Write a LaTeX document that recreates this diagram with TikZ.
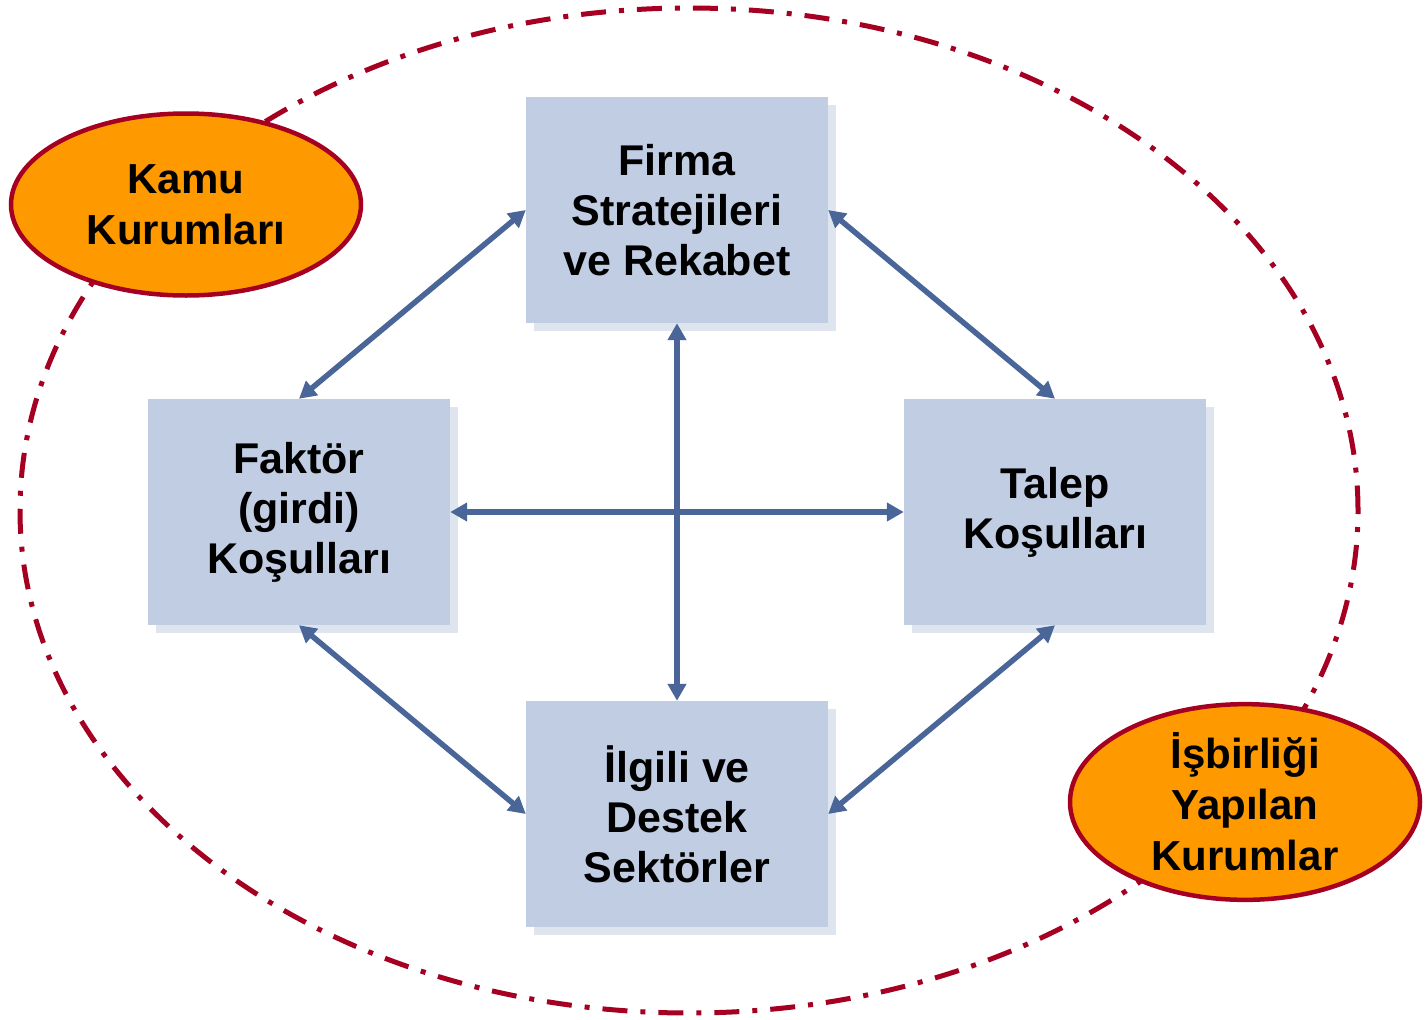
\documentclass[tikz,border=0pt]{standalone}
\usepackage{fontspec}
\setmainfont{Liberation Sans}
\usetikzlibrary{shapes.geometric,arrows.meta,shadows}
\definecolor{boxfill}{HTML}{C0CDE3}
\definecolor{shadowc}{HTML}{DFE5EF}
\definecolor{arrowc}{HTML}{4A6699}
\definecolor{darkred}{HTML}{A50021}
\definecolor{orangec}{HTML}{FF9900}
\tikzset{
  factor/.style={rectangle, fill=boxfill, minimum width=302pt, minimum height=226pt,
    inner sep=0pt, align=center, font=\fontsize{43}{50}\selectfont\bfseries,
    general shadow={fill=shadowc, shadow xshift=8pt, shadow yshift=-8pt}},
  inst/.style={ellipse, fill=orangec, draw=darkred, line width=4.5pt,
    minimum width=350pt, minimum height=182pt, inner sep=0pt, align=center,
    font=\fontsize{42}{51}\selectfont\bfseries},
  outer/.style={ellipse, draw=darkred, line width=5pt, minimum width=1338pt,
    minimum height=1005pt, inner sep=0pt,
    dash pattern=on 25pt off 13pt on 5pt off 13pt},
  link/.style={draw=arrowc, line width=5.5pt,
    {Triangle[length=17pt,width=18pt]}-{Triangle[length=17pt,width=18pt]}},
}
\begin{document}
\begin{tikzpicture}[x=1pt,y=-1pt]
\useasboundingbox (0,0) rectangle (1425,1020);
\node[outer] (ring) at (689,510.5) {};
\node[factor] (firm) at (677,210) {Firma\\Stratejileri\\ve Rekabet};
\node[factor] (fac) at (299,512) {Faktör\\(girdi)\\Koşulları};
\node[factor] (dem) at (1055,512) {Talep\\Koşulları};
\node[factor] (rel) at (677,814) {İlgili ve\\Destek\\Sektörler};
\draw[link] (firm.west) -- (fac.north);
\draw[link] (firm.east) -- (dem.north);
\draw[link] (firm.south) -- (rel.north);
\draw[link] (fac.east) -- (dem.west);
\draw[link] (fac.south) -- (rel.west);
\draw[link] (dem.south) -- (rel.east);
\node[inst] (kamu) at (186,204.5) {Kamu\\Kurumları};
\node[inst] (isb) at (1245,802) {İşbirliği\\Yapılan\\Kurumlar};
\end{tikzpicture}
\end{document}
